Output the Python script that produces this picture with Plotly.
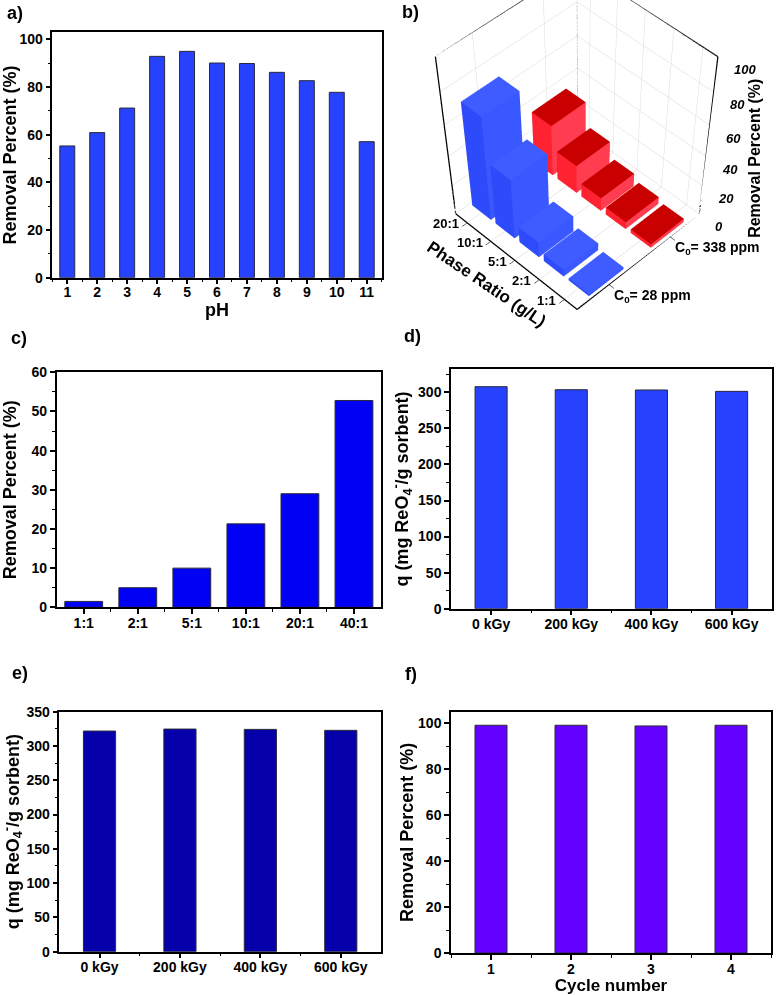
import plotly.graph_objects as go

W, H = 776, 995
FONT = "Liberation Sans"

# ---------------- data ----------------
ph = [1, 2, 3, 4, 5, 6, 7, 8, 9, 10, 11]
ph_removal = [55.3, 60.9, 71.2, 92.9, 95.0, 90.1, 89.9, 86.2, 82.7, 77.8, 57.1]

ratio_3d = ["20:1", "10:1", "5:1", "2:1", "1:1"]
conc_3d = ["C<sub>0</sub>= 28 ppm", "C<sub>0</sub>= 338 ppm"]
removal_28ppm = [69, 41, 11, 5, 1.5]
removal_338ppm = [34, 19, 9, 5, 2.5]
z_ticks_3d = [0, 20, 40, 60, 80, 100]

phase_c = ["1:1", "2:1", "5:1", "10:1", "20:1", "40:1"]
removal_c = [1.5, 5.0, 10.0, 21.3, 29.0, 52.8]

dose = ["0 kGy", "200 kGy", "400 kGy", "600 kGy"]
q_d = [307.9, 303.7, 303.3, 301.4]
q_e = [321.8, 324.7, 324.2, 322.8]

cycles = [1, 2, 3, 4]
removal_f = [99.1, 99.1, 98.8, 99.1]

# ---------------- styles ----------------
BLUE_A = "rgb(38,66,255)"
BLUE_C = "rgb(0,0,245)"
BLUE_D = "rgb(38,66,255)"
NAVY_E = "rgb(5,0,170)"
VIOLET_F = "rgb(100,0,255)"
EDGE = "#2a2a3a"

def dom_x(l, r):
    return [l / W, r / W]

def dom_y(t, b):
    return [1 - b / H, 1 - t / H]

tickfont = dict(family=FONT, size=14, color="black", weight="bold")
titlefont = dict(family=FONT, size=18, color="black", weight="bold")

def ax(**kw):
    d = dict(showline=True, linecolor="black", linewidth=1.5, mirror=True,
             ticks="outside", ticklen=5, tickwidth=1.5, tickcolor="black",
             showgrid=False, zeroline=False, tickfont=tickfont, automargin=False)
    d.update(kw)
    return d

def minor(dt):
    return dict(ticks="outside", ticklen=3, tickwidth=1, tickcolor="black", dtick=dt, showgrid=False)

def minor_vals(vals):
    return dict(ticks="outside", ticklen=3, tickwidth=1, tickcolor="black", tickvals=vals, showgrid=False)

fig = go.Figure()

# a) pH
fig.add_trace(go.Bar(x=ph, y=ph_removal, width=0.5, marker=dict(color=BLUE_A, line=dict(color=EDGE, width=1)),
                     xaxis="x", yaxis="y", showlegend=False))
# c) phase ratio
xc = list(range(len(phase_c)))
fig.add_trace(go.Bar(x=xc, y=removal_c, width=0.7, marker=dict(color=BLUE_C, line=dict(color=EDGE, width=1)),
                     xaxis="x2", yaxis="y2", showlegend=False))
# d)
xd = list(range(len(dose)))
fig.add_trace(go.Bar(x=xd, y=q_d, width=0.4, marker=dict(color=BLUE_D, line=dict(color=EDGE, width=1)),
                     xaxis="x3", yaxis="y3", showlegend=False))
# e)
fig.add_trace(go.Bar(x=xd, y=q_e, width=0.4, marker=dict(color=NAVY_E, line=dict(color=EDGE, width=1)),
                     xaxis="x4", yaxis="y4", showlegend=False))
# f)
fig.add_trace(go.Bar(x=cycles, y=removal_f, width=0.4, marker=dict(color=VIOLET_F, line=dict(color=EDGE, width=1)),
                     xaxis="x5", yaxis="y5", showlegend=False))

# ---------------- b) 3D bars ----------------
XR = [-0.5, len(ratio_3d) - 0.5]
YR = [-0.5, len(conc_3d) - 0.5]
ZR = [0, 100]
EPS = 1e-3

def boxes(values, row, wx, wy, colors):
    xs, ys, zs, I, J, K, fc = [], [], [], [], [], [], []
    top, side_y, side_x, other = colors
    for idx, v in enumerate(values):
        x0, x1 = idx - wx / 2, idx + wx / 2
        y0, y1 = row - wy / 2, row + wy / 2
        base = len(xs)
        for (px, py, pz) in [(x0, y0, 0), (x1, y0, 0), (x1, y1, 0), (x0, y1, 0),
                             (x0, y0, v), (x1, y0, v), (x1, y1, v), (x0, y1, v)]:
            xs.append(px); ys.append(py); zs.append(pz)
        faces = [((0, 1, 2), other), ((0, 2, 3), other),
                 ((4, 5, 6), top), ((4, 6, 7), top),
                 ((0, 1, 5), side_y), ((0, 5, 4), side_y),
                 ((3, 2, 6), other), ((3, 6, 7), other),
                 ((0, 3, 7), other), ((0, 7, 4), other),
                 ((1, 2, 6), side_x), ((1, 6, 5), side_x)]
        for (a, b, c), col in faces:
            I.append(base + a); J.append(base + b); K.append(base + c); fc.append(col)
    return go.Mesh3d(x=xs, y=ys, z=zs, i=I, j=J, k=K, facecolor=fc, flatshading=True,
                     lighting=dict(ambient=1, diffuse=0, specular=0, roughness=1, fresnel=0),
                     hoverinfo="skip", showscale=False, scene="scene")

fig.add_trace(boxes(removal_28ppm, 0, 0.8, 0.55,
                    ("rgb(62,92,255)", "rgb(45,75,250)", "rgb(58,88,255)", "rgb(40,60,230)")))
fig.add_trace(boxes(removal_338ppm, 1, 0.8, 0.55,
                    ("rgb(200,0,0)", "rgb(255,35,50)", "rgb(255,60,80)", "rgb(200,0,0)")))

def seg3d(pts, color, width):
    return go.Scatter3d(x=[p[0] for p in pts], y=[p[1] for p in pts], z=[p[2] for p in pts],
                        mode="lines", line=dict(color=color, width=width), hoverinfo="skip",
                        showlegend=False, scene="scene")

frame = [(XR[0], YR[0], ZR[0]), (XR[0], YR[0], ZR[1]), (XR[0], YR[1], ZR[1]), (XR[1], YR[1], ZR[1]),
         (XR[1], YR[1], ZR[0]), (XR[1], YR[0], ZR[0]), (XR[0], YR[0], ZR[0])]
fig.add_trace(seg3d(frame, "black", 2.5))
fig.add_trace(seg3d([(XR[0], YR[1], ZR[0]), (XR[0], YR[1], ZR[1])], "#9a9a9a", 1.5))
zx, zy, zz = [], [], []
for zt in range(ZR[0], ZR[1] + 1, 10):
    L = 0.2 if zt % 20 == 0 else 0.11
    zx += [XR[1], XR[1] + L, None]
    zy += [YR[1], YR[1] + L * 0.35, None]
    zz += [zt, zt, None]
fig.add_trace(go.Scatter3d(x=zx, y=zy, z=zz, mode="lines", line=dict(color="black", width=2.5),
                           hoverinfo="skip", showlegend=False, scene="scene"))

lab3d = dict(family=FONT, size=13, color="black", weight="bold")
scene_ann = []
for i, t in enumerate(ratio_3d):
    scene_ann.append(dict(x=i, y=YR[0] + EPS, z=EPS, text=t, showarrow=False, xanchor="right", yanchor="middle",
                          xshift=-6, yshift=-1, font=lab3d))
for j, t in enumerate(conc_3d):
    scene_ann.append(dict(x=XR[1] - EPS, y=j, z=EPS, text=t, showarrow=False, xanchor="left", yanchor="top",
                          xshift=3, yshift=0, font=dict(lab3d, size=14)))
for zt in z_ticks_3d:
    scene_ann.append(dict(x=XR[1] - EPS, y=YR[1] - EPS, z=min(max(zt, EPS), ZR[1] - EPS), text=str(zt),
                          showarrow=False, xanchor="left", yanchor="middle",
                          xshift=14, yshift=-13, font=dict(lab3d, style="italic")))
scene_ann.append(dict(x=2, y=YR[0] + EPS, z=EPS, text="Phase Ratio (g/L)", showarrow=False, textangle=34,
                      xanchor="center", yanchor="middle", xshift=-28, yshift=-24,
                      font=dict(family=FONT, size=17, color="black", weight="bold")))
scene_ann.append(dict(x=XR[1] - EPS, y=YR[1] - EPS, z=50, text="Removal Percent (%)", showarrow=False,
                      textangle=-90, xanchor="center", yanchor="middle", xshift=46, yshift=-17,
                      font=dict(family=FONT, size=16, color="black", weight="bold")))

common3d = dict(showbackground=False, showgrid=True, gridcolor="#d8d8d8", gridwidth=1,
                showline=False, zeroline=False, showticklabels=False, showspikes=False,
                title=dict(text=""))

fig.update_layout(
    template="none",
    width=W, height=H, margin=dict(l=0, r=0, t=0, b=0),
    paper_bgcolor="white", plot_bgcolor="white",
    font=dict(family=FONT, color="black"),
    xaxis=ax(domain=dom_x(52.3, 381.7), range=[0.5, 11.5], dtick=1, tick0=1, minor=minor(0.5),
             ticklabelstandoff=-4, title=dict(text="pH", font=titlefont, standoff=1)),
    yaxis=ax(domain=dom_y(32.3, 277.7), range=[0, 103], dtick=20, minor=minor(10),
             title=dict(text="Removal Percent (%)", font=titlefont, standoff=3)),
    xaxis2=ax(domain=dom_x(56.7, 381), range=[-0.5, 5.5], tickvals=xc, ticktext=phase_c,
              minor=minor_vals([i + 0.5 for i in xc[:-1]]), ticklabelstandoff=-3, anchor="y2"),
    yaxis2=ax(domain=dom_y(372.3, 607.3), range=[0, 60], dtick=10, minor=minor(5), anchor="x2",
              title=dict(text="Removal Percent (%)", font=titlefont, standoff=14)),
    xaxis3=ax(domain=dom_x(451, 771.7), range=[-0.5, 3.5], tickvals=xd, ticktext=dose,
              minor=minor_vals([i + 0.5 for i in xd[:-1]]), ticklabelstandoff=-3, anchor="y3"),
    yaxis3=ax(domain=dom_y(369.3, 608.7), range=[0, 332], dtick=50, minor=minor(25), anchor="x3",
              title=dict(text="q (mg ReO<sub>4</sub><sup>-</sup>/g sorbent)", font=titlefont, standoff=5)),
    xaxis4=ax(domain=dom_x(59.3, 381), range=[-0.5, 3.5], tickvals=xd, ticktext=dose,
              minor=minor_vals([i + 0.5 for i in xd[:-1]]), ticklabelstandoff=-3, anchor="y4"),
    yaxis4=ax(domain=dom_y(711.7, 951.7), range=[0, 350], dtick=50, minor=minor(25), anchor="x4",
              title=dict(text="q (mg ReO<sub>4</sub><sup>-</sup>/g sorbent)", font=titlefont, standoff=4)),
    xaxis5=ax(domain=dom_x(451, 771), range=[0.5, 4.5], dtick=1, tick0=1, minor=minor(0.5), anchor="y5",
              ticklabelstandoff=-3,
              title=dict(text="Cycle number", font=dict(family=FONT, size=17, color="black", weight="bold"), standoff=0)),
    yaxis5=ax(domain=dom_y(711.7, 953), range=[0, 105], dtick=20, minor=minor(10), anchor="x5",
              title=dict(text="Removal Percent (%)", font=titlefont, standoff=0)),
    scene=dict(
        domain=dict(x=[0.545, 0.955], y=[0.0, 1.0]),
        bgcolor="rgba(0,0,0,0)",
        aspectmode="manual", aspectratio=dict(x=0.899, y=0.899, z=1.0),
        camera=dict(eye=dict(x=3.150, y=-3.116, z=4.177), up=dict(x=0, y=0, z=1),
                    center=dict(x=1.077, y=-1.043, z=-0.869), projection=dict(type="perspective")),
        xaxis=dict(common3d, range=XR, tickvals=list(range(len(ratio_3d))), ticks="outside",
                   tickcolor="black", ticklen=6),
        yaxis=dict(common3d, range=YR, tickvals=list(range(len(conc_3d))), ticks="outside",
                   tickcolor="black", ticklen=6),
        zaxis=dict(common3d, range=ZR, dtick=20, ticks=""),
        annotations=scene_ann,
    ),
)

labels = [("a)", 5, 13), ("b)", 400, 12), ("c)", 9, 338), ("d)", 402, 336), ("e)", 10, 673), ("f)", 403, 674)]
for txt, x, y in labels:
    fig.add_annotation(text=txt, x=x / W, y=1 - y / H, xref="paper", yref="paper", xanchor="left", yanchor="middle",
                       showarrow=False, font=dict(family=FONT, size=18, color="black", weight="bold"))

fig.write_html("out.html", config={"displayModeBar": False},
               post_script="document.body.style.margin='0px';")
